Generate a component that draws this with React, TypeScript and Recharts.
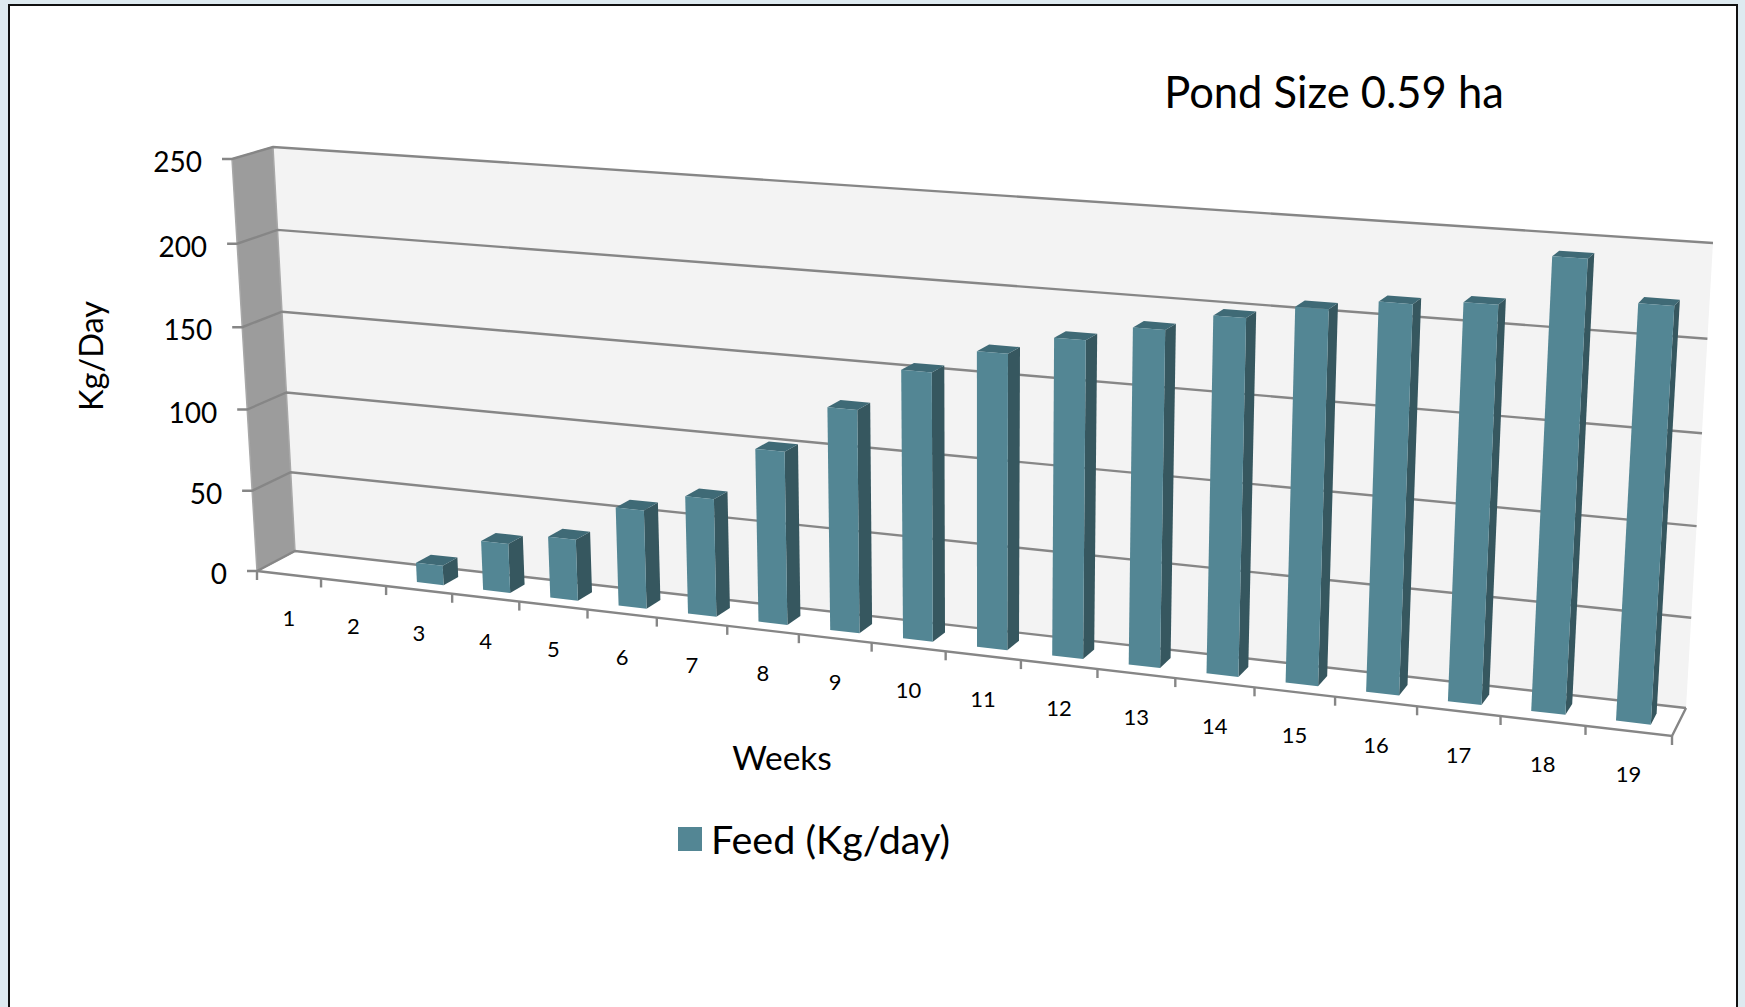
import { BarChart, Bar, XAxis, YAxis, CartesianGrid, Legend } from 'recharts';

const weeks = ['1','2','3','4','5','6','7','8','9','10','11','12','13','14','15','16','17','18','19'];
const feed = [0,0,12,30,37,59,70,102,130,155,169,180,189,199,207,213,216,243,222];
const yTicks = [0,50,100,150,200,250];

const FONT = 'Lato, Carlito, sans-serif';
const GRID = '#868686';
const FRONT = '#538694';
const SIDE = '#36575f';
const TOP = '#3f6a76';

// flat plot box that recharts lays out, then everything gets projected onto the 3d box
const PLOT = { left: 100, top: 100, width: 1500, height: 800 };

type P = [number, number];

// unit square -> quad, corners are (0,0) (1,0) (1,1) (0,1)
const homography = (a: P, b: P, c: P, d: P) => {
  const dx1 = b[0] - c[0], dx2 = d[0] - c[0], sx = a[0] - b[0] + c[0] - d[0];
  const dy1 = b[1] - c[1], dy2 = d[1] - c[1], sy = a[1] - b[1] + c[1] - d[1];
  const den = dx1 * dy2 - dx2 * dy1;
  const g = (sx * dy2 - dx2 * sy) / den;
  const h = (dx1 * sy - sx * dy1) / den;
  return (u: number, v: number): P => {
    const q = g * u + h * v + 1;
    return [
      ((b[0] - a[0] + g * b[0]) * u + (d[0] - a[0] + h * d[0]) * v + a[0]) / q,
      ((b[1] - a[1] + g * b[1]) * u + (d[1] - a[1] + h * d[1]) * v + a[1]) / q,
    ];
  };
};

const frontPlane = homography([257, 571], [1672, 736], [1700, 257], [232, 159]);
const backPlane = homography([295, 551], [1686, 708], [1713, 243], [273, 147]);

const project = (u: number, v: number, w: number): P => {
  const f = frontPlane(u, v);
  const b = backPlane(u, v);
  return [f[0] + (b[0] - f[0]) * w, f[1] + (b[1] - f[1]) * w];
};

const toU = (x: number) => (x - PLOT.left) / PLOT.width;
const toV = (y: number) => (PLOT.top + PLOT.height - y) / PLOT.height;
const pts = (list: P[]) => list.map((p) => `${p[0].toFixed(1)},${p[1].toFixed(1)}`).join(' ');

const Bar3D = (props: any) => {
  const { x, y, width, height } = props;
  if (!height || height <= 0) return null;
  const u0 = toU(x), u1 = toU(x + width);
  const v0 = toV(y + height), v1 = toV(y);
  const w0 = 0.3, w1 = 0.7;
  return (
    <g>
      <polygon points={pts([project(u1, v0, w0), project(u1, v0, w1), project(u1, v1, w1), project(u1, v1, w0)])} fill={SIDE} />
      <polygon points={pts([project(u0, v1, w0), project(u1, v1, w0), project(u1, v1, w1), project(u0, v1, w1)])} fill={TOP} />
      <polygon points={pts([project(u0, v0, w0), project(u1, v0, w0), project(u1, v1, w0), project(u0, v1, w0)])} fill={FRONT} />
    </g>
  );
};

const GridLine3D = (props: any) => {
  const v = toV(props.y1);
  const a = project(0, v, 0);
  return (
    <polyline
      points={pts([[a[0] - 10, a[1]], a, project(0, v, 1), project(1, v, 1)])}
      fill="none"
      stroke={GRID}
      strokeWidth={2.4}
    />
  );
};

const XTick = (props: any) => {
  const { x, payload } = props;
  const u = toU(x);
  const half = 1 / (2 * weeks.length);
  const c = project(u, 0, 0);
  const t = project(u + half, 0, 0);
  return (
    <g>
      <line x1={t[0]} y1={t[1]} x2={t[0]} y2={t[1] + 9} stroke={GRID} strokeWidth={2.4} />
      <text x={c[0]} y={c[1] + 43} textAnchor="middle" dominantBaseline="central" fontSize={22} fontFamily={FONT} fill="#000">
        {payload.value}
      </text>
    </g>
  );
};

const YTick = (props: any) => {
  const { y, payload } = props;
  const p = project(0, toV(y), 0);
  return (
    <text x={p[0] - 30} y={p[1] + 2} textAnchor="end" dominantBaseline="central" fontSize={28} fontFamily={FONT} fill="#000">
      {payload.value}
    </text>
  );
};

// floor, walls and the front edge of the box, sits behind the chart
const Box3D = () => {
  const fbl = project(0, 0, 0), fbr = project(1, 0, 0);
  const bbl = project(0, 0, 1), bbr = project(1, 0, 1);
  const ftl = project(0, 1, 0), btl = project(0, 1, 1), btr = project(1, 1, 1);
  return (
    <svg width={1745} height={1007} style={{ position: 'absolute', left: 0, top: 0 }}>
      <polygon points={pts([bbl, bbr, btr, btl])} fill="#f3f3f3" />
      <polygon points={pts([fbl, bbl, btl, ftl])} fill="#9c9c9c" stroke="#a8a8a8" strokeWidth={1.5} />
      <polyline points={pts([fbl, fbr, bbr])} fill="none" stroke={GRID} strokeWidth={2.4} />
      <line x1={fbl[0]} y1={fbl[1]} x2={fbl[0]} y2={fbl[1] + 9} stroke={GRID} strokeWidth={2.4} />
    </svg>
  );
};

export default function App() {
  return (
    <div style={{ position: 'absolute', left: 0, top: 0, width: 1745, height: 1007, background: '#deeaf0', overflow: 'hidden' }}>
      <div style={{ position: 'absolute', left: 8, top: 4, width: 1726, height: 1100, background: '#fff', border: '2px solid #111' }} />
      <Box3D />
      <div style={{ position: 'absolute', left: 0, top: 0 }}>
        <BarChart
          width={1745}
          height={1007}
          data={weeks.map((week, i) => ({ week, feed: feed[i] }))}
          margin={{ top: 100, left: 60, right: 145, bottom: 77 }}
          barCategoryGap="30%"
        >
          <CartesianGrid horizontal={GridLine3D} vertical={false} />
          <XAxis dataKey="week" height={30} axisLine={false} tickLine={false} tick={XTick} interval={0} />
          <YAxis width={40} domain={[0, 250]} ticks={yTicks} axisLine={false} tickLine={false} tick={YTick} />
          <Legend
            layout="horizontal"
            verticalAlign="middle"
            iconType="square"
            iconSize={24}
            wrapperStyle={{ left: 654, top: 815, width: 330, textAlign: 'left' }}
            formatter={(value) => (
              <span style={{ color: '#000', fontSize: 39.5, fontFamily: FONT, marginLeft: 5, verticalAlign: 'middle', lineHeight: '48px' }}>{value}</span>
            )}
          />
          <Bar dataKey="feed" name="Feed (Kg/day)" fill={FRONT} shape={Bar3D} isAnimationActive={false} />
          <text x={1334} y={91} textAnchor="middle" dominantBaseline="central" fontSize={43.5} fontFamily={FONT} fill="#000">
            Pond Size 0.59 ha
          </text>
          <text x={782} y={757} textAnchor="middle" dominantBaseline="central" fontSize={33.5} fontFamily={FONT} fill="#000">
            Weeks
          </text>
          <text x={90} y={356} textAnchor="middle" dominantBaseline="central" fontSize={32.5} fontFamily={FONT} fill="#000" transform="rotate(-90 90 356)">
            Kg/Day
          </text>
        </BarChart>
      </div>
    </div>
  );
}
